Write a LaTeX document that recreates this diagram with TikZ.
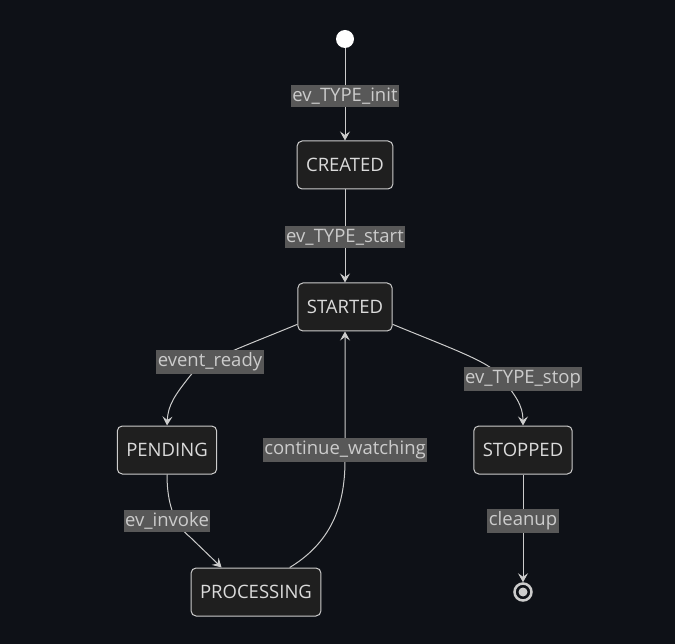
\documentclass[tikz,border=0pt]{standalone}
\usepackage{fontspec}
\setmainfont{Open Sans}
\usetikzlibrary{arrows.meta,positioning}
\definecolor{NightBg}{HTML}{0E1117}
\definecolor{BoxFill}{HTML}{1F1F1F}
\definecolor{SoftGrey}{HTML}{CCCCCC}
\definecolor{TagGrey}{HTML}{585858}

\begin{document}
\begin{tikzpicture}[x=1pt, y=-1pt,
  state/.style={draw=SoftGrey, fill=BoxFill, rounded corners=5pt, line width=1pt, minimum height=48pt, inner xsep=9pt, text=SoftGrey!70!white, font=\fontsize{18.5}{22}\selectfont},
  tag/.style={fill=TagGrey, text=SoftGrey, inner xsep=1.5pt, inner ysep=3pt, font=\fontsize{18.5}{22}\selectfont},
  edge/.style={-{Stealth[length=9pt, width=10pt, inset=3.5pt]}, draw=SoftGrey, line width=1pt}
]
  \fill[NightBg] (0,0) rectangle (675,644);
  \useasboundingbox (0,0) rectangle (675,644);

  % states
  \node[circle, fill=white, minimum size=18pt, inner sep=0pt] (init) at (345,39) {};
  \node[state] (created) at (345,165) {CREATED};
  \node[state] (started) at (345,307) {STARTED};
  \node[state] (pending) at (167,450) {PENDING};
  \node[state] (stopped) at (523,450) {STOPPED};
  \node[state] (processing) at (256,592) {PROCESSING};
  \node[circle, draw=SoftGrey, line width=2.5pt, minimum size=17pt, inner sep=0pt] (done) at (523,592) {};
  \fill[SoftGrey] (done) circle (4.5pt);

  % transitions
  \draw[edge] (init) -- (created);
  \draw[edge] (created) -- (started);
  \draw[edge] (started.200) .. controls (240,348) and (200,362) .. (190,376)
    .. controls (175,395) and (168,405) .. (pending.north);
  \draw[edge] (started.340) .. controls (450,348) and (490,362) .. (500,376)
    .. controls (515,395) and (523,405) .. (stopped.north);
  \draw[edge] (pending.south) .. controls (167,505) and (175,525) .. (190,537)
    -- ([xshift=31pt]processing.north west);
  \draw[edge] (processing.36) .. controls (335,540) and (345,500) .. (345,460)
    -- (started.south);
  \draw[edge] (stopped) -- (done);

  % labels
  \node[tag] (lbl-init) at (345,96) {ev\_TYPE\_init};
  \node[tag] (lbl-start) at (345,237) {ev\_TYPE\_start};
  \node[tag] (lbl-ready) at (210,362) {event\_ready};
  \node[tag] (lbl-stop) at (523,379) {ev\_TYPE\_stop};
  \node[tag] (lbl-watch) at (345,450) {continue\_watching};
  \node[tag] (lbl-invoke) at (167,521) {ev\_invoke};
  \node[tag] (lbl-clean) at (523,521) {cleanup};
\end{tikzpicture}
\end{document}
